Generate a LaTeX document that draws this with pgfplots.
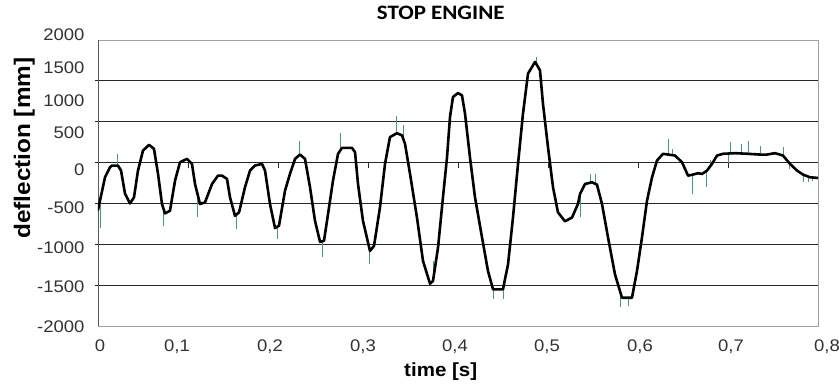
\documentclass[border=0pt]{standalone}
\usepackage{fontspec}
\setmainfont{Liberation Sans}
\newfontfamily\tickfont[FakeStretch=1.1]{Liberation Sans}
\newfontfamily\titlefont[FakeStretch=1.12]{Carlito}
\newfontfamily\labfont[FakeStretch=1.08]{Liberation Sans}
\usepackage{pgfplots}
\pgfplotsset{compat=1.18}
\definecolor{noise}{RGB}{80,150,120}
\definecolor{gridc}{RGB}{40,40,40}
\definecolor{framec}{RGB}{160,160,160}
\definecolor{tickc}{RGB}{50,50,50}
\begin{document}
\begin{tikzpicture}
\useasboundingbox (0pt,0pt) rectangle (839pt,385pt);
% ---- main axis with data and grid ----
\begin{axis}[
  name=main, at={(98pt,59pt)}, anchor=south west,
  scale only axis, width=720pt, height=286pt,
  xmin=0, xmax=0.8, ymin=-2000, ymax=1500,
  xtick=\empty,
  ytick={-1500,-1000,-500,0,500,1000}, yticklabels={},
  ymajorgrids, grid style={gridc, line width=0.9pt},
  ytick pos=left, tick align=outside, major tick length=3pt,
  tick style={gridc, line width=0.8pt},
  extra x ticks={0}, extra x tick labels={},
  extra x tick style={grid=major, major grid style={gray!70!black, line width=0.9pt}, major tick length=0pt},
  axis line style={framec, line width=0.9pt},
  title={STOP ENGINE},
  title style={at={(axis description cs:0.476,1)}, anchor=base, yshift=14pt,
    font=\titlefont\bfseries\fontsize{20.5}{20.5}\selectfont},
  xlabel={time [s]},
  xlabel style={at={(axis description cs:0.476,0)}, anchor=base, yshift=-51pt,
    font=\labfont\bfseries\fontsize{19}{19}\selectfont},
  ylabel={deflection [mm]},
  ylabel style={at={(axis description cs:-0.0944,0.622)}, anchor=base, rotate=0,
    font=\labfont\bfseries\fontsize{22.5}{22.5}\selectfont},
]
% noise spikes (raw signal)
\addplot[draw=none, mark=none, forget plot,
  error bars/.cd, y dir=both, y explicit, error mark=none,
  error bar style={noise, line width=0.8pt}]
coordinates {
(0.0022,-520) += (0,0) -= (0,275)
(0.0211,-37) += (0,147) -= (0,0)
(0.0722,-540) += (0,0) -= (0,233)
(0.1100,-380) += (0,0) -= (0,292)
(0.1533,-640) += (0,0) -= (0,170)
(0.1989,-790) += (0,0) -= (0,143)
(0.2233,95) += (0,175) -= (0,0)
(0.2489,-965) += (0,0) -= (0,195)
(0.2689,150) += (0,215) -= (0,0)
(0.3011,-1075) += (0,0) -= (0,165)
(0.3311,355) += (0,210) -= (0,0)
(0.3389,300) += (0,154) -= (0,0)
(0.3722,-1449) += (0,249) -= (0,0)
(0.4389,-1551) += (0,0) -= (0,119)
(0.4500,-1551) += (0,0) -= (0,119)
(0.4867,1230) += (0,60) -= (0,0)
(0.5356,-384) += (0,0) -= (0,288)
(0.5467,-245) += (0,110) -= (0,0)
(0.5522,-255) += (0,115) -= (0,0)
(0.5800,-1630) += (0,0) -= (0,139)
(0.5889,-1654) += (0,0) -= (0,96)
(0.6333,100) += (0,191) -= (0,0)
(0.6378,95) += (0,65) -= (0,0)
(0.6600,-150) += (0,0) -= (0,231)
(0.6756,-110) += (0,0) -= (0,193)
(0.6800,-60) += (0,90) -= (0,0)
(0.7000,110) += (0,0) -= (0,150)
(0.7022,110) += (0,140) -= (0,0)
(0.7144,112) += (0,118) -= (0,0)
(0.7222,107) += (0,163) -= (0,0)
(0.7356,98) += (0,102) -= (0,0)
(0.7611,86) += (0,104) -= (0,0)
(0.7678,0) += (0,0) -= (0,80)
(0.7833,-147) += (0,0) -= (0,94)
(0.7889,-170) += (0,0) -= (0,71)
(0.7933,-180) += (0,0) -= (0,50)
};
% filtered signal
\addplot[black, line width=2.6pt, line join=round, line cap=round, mark=none] coordinates {
(0.0000,-580) (0.0078,-180) (0.0133,-58) (0.0156,-37) (0.0222,-37) (0.0256,-98)
(0.0300,-380) (0.0356,-500) (0.0400,-426) (0.0444,-98) (0.0500,147) (0.0567,217)
(0.0622,168) (0.0667,-139) (0.0711,-507) (0.0744,-622) (0.0800,-590) (0.0856,-221)
(0.0911,4) (0.0989,45) (0.1044,-16) (0.1078,-262) (0.1133,-507) (0.1189,-487)
(0.1267,-262) (0.1333,-160) (0.1378,-160) (0.1433,-200) (0.1467,-426) (0.1522,-651)
(0.1567,-610) (0.1633,-303) (0.1689,-98) (0.1744,-37) (0.1822,-16) (0.1856,-98)
(0.1911,-507) (0.1967,-802) (0.2011,-773) (0.2078,-344) (0.2133,-139) (0.2189,45)
(0.2244,98) (0.2300,45) (0.2356,-303) (0.2411,-712) (0.2467,-970) (0.2511,-958)
(0.2556,-630) (0.2611,-221) (0.2667,107) (0.2711,180) (0.2822,180) (0.2856,127)
(0.2889,-262) (0.2944,-712) (0.3022,-1081) (0.3067,-1019) (0.3133,-549) (0.3189,-16)
(0.3244,311) (0.3322,360) (0.3378,332) (0.3411,230) (0.3467,-139) (0.3544,-672)
(0.3611,-1203) (0.3689,-1482) (0.3722,-1449) (0.3778,-1040) (0.3833,-426) (0.3878,65)
(0.3911,556) (0.3944,802) (0.4000,851) (0.4044,823) (0.4078,598) (0.4133,65)
(0.4189,-426) (0.4267,-917) (0.4333,-1326) (0.4389,-1551) (0.4500,-1551) (0.4556,-1244)
(0.4611,-672) (0.4667,-16) (0.4722,598) (0.4778,1089) (0.4856,1232) (0.4911,1130)
(0.4944,721) (0.5000,188) (0.5056,-303) (0.5111,-610) (0.5189,-719) (0.5267,-672)
(0.5333,-507) (0.5356,-384) (0.5411,-262) (0.5489,-241) (0.5544,-270) (0.5600,-507)
(0.5667,-917) (0.5744,-1367) (0.5822,-1654) (0.5933,-1654) (0.5989,-1326) (0.6044,-917)
(0.6100,-467) (0.6156,-180) (0.6211,25) (0.6278,107) (0.6411,86) (0.6489,4)
(0.6556,-160) (0.6611,-147) (0.6667,-130) (0.6711,-139) (0.6767,-98) (0.6822,-16)
(0.6878,86) (0.6944,107) (0.7078,115) (0.7222,107) (0.7356,98) (0.7433,98)
(0.7522,115) (0.7611,86) (0.7689,-16) (0.7767,-98) (0.7833,-147) (0.7911,-180)
(0.8000,-188)
};
\end{axis}
% ---- tick marks on the zero line ----
\begin{axis}[
  at={(98pt,59pt)}, anchor=south west,
  scale only axis, width=720pt, height=286pt,
  xmin=0, xmax=0.8, ymin=-2000, ymax=1500,
  axis x line=middle, axis y line=none,
  x axis line style={-, draw=none},
  xtick={0.1,0.2,0.3,0.4,0.5,0.6,0.7}, xticklabels={},
  tick align=outside, major tick length=5pt,
  tick style={gridc, line width=0.9pt},
]
\end{axis}
% ---- tick labels ----
\begin{axis}[
  at={(88pt,49pt)}, anchor=south west,
  scale only axis, width=742pt, height=306pt,
  xmin=-0.011111, xmax=0.813333, ymin=-2122.4, ymax=1622.4,
  axis line style={draw=none}, major tick length=0pt, tick style={draw=none},
  xtick={0.0022,0.0878,0.1911,0.2944,0.3967,0.4989,0.6022,0.7033,0.8100},
  xticklabels={0,{0,1},{0,2},{0,3},{0,4},{0,5},{0,6},{0,7},{0,8}},
  ytick={-2012,-1523,-1046,-556,-91,362,753,1157,1561},
  yticklabels={-2000,-1500,-1000,-500,0,500,1000,1500,2000},
  ticklabel style={font=\tickfont\fontsize{16.8}{17}\selectfont, text=tickc},
]
\end{axis}
\end{tikzpicture}
\end{document}
